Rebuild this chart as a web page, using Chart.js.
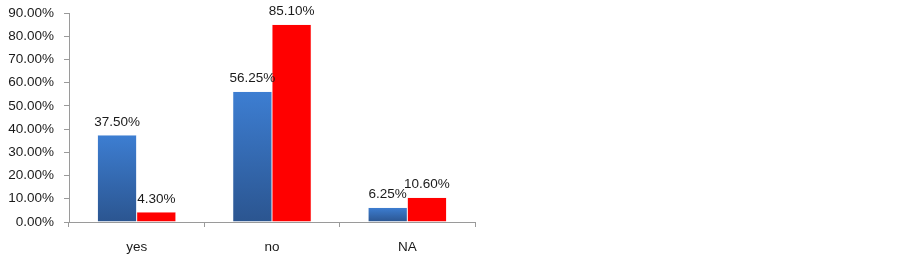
<!DOCTYPE html>
<html><head><meta charset="utf-8">
<script src="https://cdn.jsdelivr.net/npm/chart.js@4.4.1/dist/chart.umd.min.js"></script>
<style>html,body{margin:0;padding:0;background:#fff}#wrap{width:902px;height:254px}</style>
</head><body><div id="wrap"><canvas id="c" width="902" height="254"></canvas></div>
<script>
const categories = ["yes", "no", "NA"];
const seriesA = [37.50, 56.25, 6.25];
const seriesB = [4.30, 85.10, 10.60];
const yTickValues = [0, 10, 20, 30, 40, 50, 60, 70, 80, 90];

const FONT = "'Liberation Sans', Arial, sans-serif";

function blueGrad(ctx) {
  const chart = ctx.chart;
  const {chartArea} = chart;
  if (!chartArea || ctx.type !== 'data') return '#3A74C0';
  const y = chart.scales.y;
  const top = y.getPixelForValue(ctx.raw);
  const bot = y.getPixelForValue(0);
  if (!(bot > top)) return '#3A74C0';
  const g = chart.ctx.createLinearGradient(0, top, 0, bot);
  g.addColorStop(0, '#3D7ED2');
  g.addColorStop(1, '#2B5590');
  return g;
}

const labelPlugin = {
  id: 'valLabels',
  afterDatasetsDraw(chart) {
    const ctx = chart.ctx;
    ctx.save();
    ctx.font = "13.5px " + FONT;
    ctx.fillStyle = '#1a1a1a';
    ctx.textAlign = 'center';
    ctx.textBaseline = 'bottom';
    chart.data.datasets.forEach((ds, di) => {
      chart.getDatasetMeta(di).data.forEach((bar, i) => {
        ctx.fillText(ds.data[i].toFixed(2) + '%', bar.x, bar.y - 6);
      });
    });
    ctx.restore();
  }
};

new Chart(document.getElementById('c'), {
  type: 'bar',
  data: {
    labels: categories,
    datasets: [
      {data: seriesA, backgroundColor: blueGrad, borderColor: 'rgba(200,215,240,0.5)', borderWidth: 0.5, borderSkipped: 'bottom'},
      {data: seriesB, backgroundColor: '#FF0000', borderColor: 'rgba(255,170,170,0.5)', borderWidth: 0.5, borderSkipped: 'bottom'}
    ]
  },
  options: {
    responsive: false,
    animation: false,
    devicePixelRatio: 1,
    layout: {padding: {left: 0, right: 427, top: 13, bottom: 0}},
    datasets: {bar: {categoryPercentage: 0.58, barPercentage: 1.0}},
    plugins: {legend: {display: false}, tooltip: {enabled: false}},
    scales: {
      y: {
        min: 0, max: 90,
        afterFit(s) { s.width = 69; s.paddingTop = 0; s.paddingBottom = 0; },
        afterBuildTicks(s) { s.ticks = yTickValues.map(v => ({value: v})); },
        ticks: {
          callback: v => v.toFixed(2) + '%',
          color: '#1a1a1a', font: {size: 13.5, family: FONT}, padding: 10
        },
        grid: {drawOnChartArea: false, drawTicks: true, tickLength: 5, color: '#9a9a9a'},
        border: {color: '#9a9a9a', width: 1}
      },
      x: {
        afterFit(s) { s.height = 32; s.paddingLeft = 0; s.paddingRight = 0; },
        ticks: {color: '#1a1a1a', font: {size: 13.5, family: FONT}, padding: 12},
        grid: {drawOnChartArea: false, drawTicks: true, tickLength: 5, color: '#9a9a9a', offset: true},
        border: {color: '#9a9a9a', width: 1}
      }
    }
  },
  plugins: [labelPlugin]
});
</script></body></html>
